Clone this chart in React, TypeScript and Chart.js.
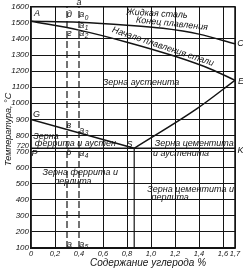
import { useEffect, useRef } from "react";
import { Chart, registerables } from "chart.js";

Chart.register(...registerables);

// ---- axes ----
const carbonTicks = [0, 0.2, 0.4, 0.6, 0.8, 1.0, 1.2, 1.4, 1.6, 1.7];
const tempTicks = [100, 200, 300, 400, 500, 600, 700, 800, 900, 1000, 1100, 1200, 1300, 1400, 1500, 1600];
const eutectoidTick = 720;

// ---- phase lines (carbon %, temperature °C) ----
const liquidusC = [0, 0.4, 0.8, 1.1, 1.4, 1.7];
const liquidusT = [1510, 1504, 1486, 1466, 1430, 1370];
const solidusC = [0, 0.4, 0.8, 1.2, 1.5, 1.7];
const solidusT = [1510, 1455, 1380, 1292, 1212, 1143];
const gsC = [0, 0.86];
const gsT = [900, 720];
const seC = [0.86, 1.38, 1.7];
const seT = [720, 965, 1143];
const pskC = [0, 1.7];
const pskT = [720, 720];
const sVertC = [0.86, 0.86];
const sVertT = [720, 100];
const cutAC = [0.4, 0.4];
const cutAT = [100, 1600];
const cutDC = [0.3, 0.3];
const cutDT = [100, 1600];

// ---- point letters ----
const pointNames = ["A", "C", "E", "G", "S", "P", "K"];
const pointC = [0.05, 1.745, 1.75, 0.045, 0.82, 0.03, 1.745];
const pointT = [1557, 1371, 1135, 930, 744, 690, 707];

// ---- section letters on the 0.3 / 0.4 lines ----
const cutNames = ["а", "д", "а", "а", "г", "а", "в", "а", "б", "а", "а", "а"];
const cutSubs = ["", "", "0", "1", "", "2", "", "3", "", "4", "", "5"];
const cutC = [0.4, 0.32, 0.44, 0.44, 0.32, 0.44, 0.315, 0.44, 0.315, 0.44, 0.32, 0.44];
const cutT = [1625, 1550, 1550, 1484, 1433, 1433, 862, 831, 695, 689, 124, 124];

// ---- region texts ----
const regionTexts = [
  "Жидкая сталь",
  "Конец плавления",
  "Начало плавления стали",
  "Зерна аустенита",
  "Зерна",
  "феррита и аустен",
  "Зерна феррита и",
  "перлита",
  "Зерна цементита",
  "и аустенита",
  "Зерна цементита и",
  "перлита",
];
const regionC = [1.05, 1.175, 1.1, 0.917, 0.125, 0.37, 0.41, 0.35, 1.36, 1.25, 1.33, 1.16];
const regionT = [1557, 1495, 1352, 1129, 794, 751, 571, 515, 751, 689, 465, 416];
const regionAngle = [3, 6, 18.5, 0, 0, 0, 0, 0, 0, 0, 0, 0];

const xTitle = "Содержание углерода %";
const yTitle = "Температура, °C";

const FONT = "'Liberation Sans', Arial, sans-serif";
const INK = "#141414";

const pts = (xs: number[], ys: number[]) => xs.map((x, i) => ({ x, y: ys[i] }));

const annotate = {
  id: "annotate",
  afterDatasetsDraw(chart: any) {
    const { ctx, chartArea } = chart;
    const x = chart.scales.x;
    const y = chart.scales.y;
    ctx.save();
    // frame
    ctx.strokeStyle = INK;
    ctx.lineWidth = 1.5;
    ctx.strokeRect(chartArea.left, chartArea.top, chartArea.right - chartArea.left, chartArea.bottom - chartArea.top);

    ctx.fillStyle = INK;
    ctx.textBaseline = "middle";
    ctx.textAlign = "center";

    // region texts
    regionTexts.forEach((t, i) => {
      ctx.save();
      ctx.translate(x.getPixelForValue(regionC[i]), y.getPixelForValue(regionT[i]));
      ctx.rotate((regionAngle[i] * Math.PI) / 180);
      ctx.font = `italic 9px ${FONT}`;
      ctx.fillText(t, 0, 0);
      ctx.restore();
    });

    // point letters
    ctx.font = `italic 9px ${FONT}`;
    pointNames.forEach((t, i) => {
      ctx.fillText(t, x.getPixelForValue(pointC[i]), y.getPixelForValue(pointT[i]));
    });

    // section letters
    cutNames.forEach((t, i) => {
      const px = x.getPixelForValue(cutC[i]);
      const py = y.getPixelForValue(cutT[i]);
      ctx.font = `italic 9px ${FONT}`;
      ctx.textAlign = "left";
      const w = ctx.measureText(t).width;
      const sub = cutSubs[i];
      const total = w + (sub ? 4 : 0);
      ctx.fillText(t, px - total / 2, py);
      if (sub) {
        ctx.font = `italic 6.5px ${FONT}`;
        ctx.fillText(sub, px - total / 2 + w + 0.5, py + 3);
      }
      ctx.textAlign = "center";
    });

    // 720 tick label
    ctx.font = `italic 7.5px ${FONT}`;
    ctx.textAlign = "right";
    ctx.fillText(String(eutectoidTick), chartArea.left - 2, y.getPixelForValue(eutectoidTick) - 2);

    // axis titles
    ctx.textAlign = "center";
    ctx.font = `italic 10px ${FONT}`;
    ctx.fillText(xTitle, 148, chart.height - 8);
    ctx.save();
    ctx.translate(8, (chartArea.top + chartArea.bottom) / 2 + 2);
    ctx.rotate(-Math.PI / 2);
    ctx.font = `italic 9px ${FONT}`;
    ctx.fillText(yTitle, 0, 0);
    ctx.restore();

    ctx.restore();
  },
};

export default function App() {
  const ref = useRef<HTMLCanvasElement | null>(null);

  useEffect(() => {
    document.body.style.margin = "0";
    if (!ref.current) return;
    const solid = { borderColor: INK, borderWidth: 1.5, pointRadius: 0, showLine: true, fill: false };
    const dashed = { borderColor: INK, borderWidth: 1.2, pointRadius: 0, showLine: true, fill: false, borderDash: [7, 3] };
    const chart = new Chart(ref.current, {
      type: "scatter",
      data: {
        datasets: [
          { ...solid, label: "liquidus", data: pts(liquidusC, liquidusT), cubicInterpolationMode: "monotone" },
          { ...solid, label: "solidus", data: pts(solidusC, solidusT), cubicInterpolationMode: "monotone" },
          { ...solid, label: "GS", data: pts(gsC, gsT) },
          { ...solid, label: "SE", data: pts(seC, seT), cubicInterpolationMode: "monotone" },
          { ...solid, label: "PSK", data: pts(pskC, pskT) },
          { ...solid, label: "S", data: pts(sVertC, sVertT), borderWidth: 1.2 },
          { ...dashed, label: "a", data: pts(cutAC, cutAT) },
          { ...dashed, label: "d", data: pts(cutDC, cutDT) },
        ] as any,
      },
      options: {
        animation: false,
        responsive: false,
        layout: { padding: { top: 6, right: 8, left: 0, bottom: 0 } },
        plugins: { legend: { display: false }, tooltip: { enabled: false } },
        scales: {
          x: {
            type: "linear",
            min: 0,
            max: 1.7,
            afterFit: (s: any) => {
              s.height = 23;
            },
            afterBuildTicks: (s: any) => {
              s.ticks = carbonTicks.map((v) => ({ value: v }));
            },
            ticks: {
              autoSkip: false,
              maxRotation: 0,
              padding: 1,
              color: INK,
              font: { family: FONT, style: "italic", size: 7.5 },
              callback: (v: any) => (v === 0 ? "0" : Number(v).toFixed(1).replace(".", ",")),
            },
            grid: {
              drawTicks: false,
              lineWidth: 1,
              color: (c: any) =>
                c.tick && (c.tick.value === 0.4 || c.tick.value === 0) ? "rgba(0,0,0,0)" : INK,
            },
            border: { display: true, color: INK, width: 1.5 },
          },
          y: {
            type: "linear",
            min: 100,
            max: 1600,
            afterFit: (s: any) => {
              s.width = 31;
            },
            afterBuildTicks: (s: any) => {
              s.ticks = tempTicks.map((v) => ({ value: v }));
            },
            ticks: {
              autoSkip: false,
              padding: 2,
              color: INK,
              font: { family: FONT, style: "italic", size: 8 },
              callback: (v: any) => String(v),
            },
            grid: {
              drawTicks: false,
              lineWidth: 1,
              color: (c: any) => (c.tick && c.tick.value === 1500 ? "rgba(0,0,0,0)" : INK),
            },
            border: { display: true, color: INK, width: 1.5 },
          },
        },
      },
      plugins: [annotate],
    });
    return () => chart.destroy();
  }, []);

  return (
    <div style={{ position: "fixed", left: 0, top: 0, width: 243, height: 271, background: "#fff" }}>
      <canvas ref={ref} width={243} height={271} />
    </div>
  );
}
